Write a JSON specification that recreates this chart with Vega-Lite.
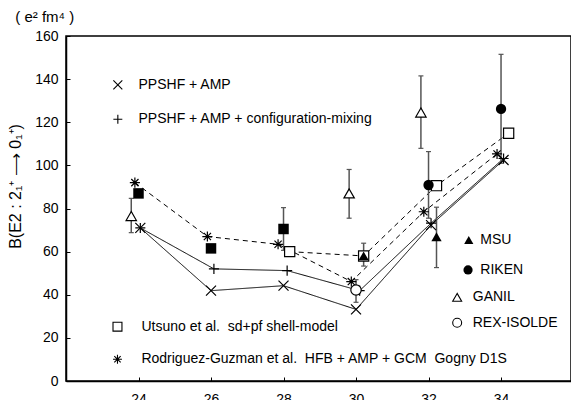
{
  "$schema": "https://vega.github.io/schema/vega-lite/v6.json",
  "width": 505,
  "height": 345,
  "autosize": {"type": "none"},
  "padding": {"left": 66, "top": 36, "right": 0, "bottom": 19},
  "background": "white",
  "config": {
    "view": {"stroke": "black", "strokeWidth": 1.5},
    "font": "Liberation Sans",
    "axis": {"grid": false, "domainColor": "black", "domainWidth": 1.5, "tickColor": "black", "tickWidth": 1, "labelColor": "black", "labelFont": "Liberation Sans", "labelFontSize": 14, "titleColor": "black"}
  },
  "datasets": {
    "models": [
      {"model": "PPSHF + AMP", "x": 24.05, "y": 71},
      {"model": "PPSHF + AMP", "x": 26.0, "y": 41.9},
      {"model": "PPSHF + AMP", "x": 28.0, "y": 44.2},
      {"model": "PPSHF + AMP", "x": 30.0, "y": 33.2},
      {"model": "PPSHF + AMP", "x": 32.07, "y": 72.3},
      {"model": "PPSHF + AMP", "x": 34.07, "y": 102.5},
      {"model": "PPSHF + AMP + configuration-mixing", "x": 24.05, "y": 71},
      {"model": "PPSHF + AMP + configuration-mixing", "x": 26.08, "y": 52},
      {"model": "PPSHF + AMP + configuration-mixing", "x": 28.1, "y": 51.2},
      {"model": "PPSHF + AMP + configuration-mixing", "x": 30.1, "y": 41.9},
      {"model": "PPSHF + AMP + configuration-mixing", "x": 32.07, "y": 73.2},
      {"model": "PPSHF + AMP + configuration-mixing", "x": 34.07, "y": 103.2},
      {"model": "Rodriguez-Guzman", "x": 23.9, "y": 92},
      {"model": "Rodriguez-Guzman", "x": 25.9, "y": 67},
      {"model": "Rodriguez-Guzman", "x": 27.85, "y": 63.4},
      {"model": "Rodriguez-Guzman", "x": 29.87, "y": 46.1},
      {"model": "Rodriguez-Guzman", "x": 31.87, "y": 78.5},
      {"model": "Rodriguez-Guzman", "x": 33.89, "y": 105.3},
      {"model": "Utsuno", "x": 28.17, "y": 60},
      {"model": "Utsuno", "x": 30.21, "y": 58},
      {"model": "Utsuno", "x": 32.22, "y": 90.6},
      {"model": "Utsuno", "x": 34.21, "y": 114.9}
    ],
    "openPts": [
      {"sym": "x", "x": 24.05, "y": 71},
      {"sym": "x", "x": 26.0, "y": 41.9},
      {"sym": "x", "x": 28.0, "y": 44.2},
      {"sym": "x", "x": 30.0, "y": 33.2},
      {"sym": "x", "x": 32.07, "y": 72.3},
      {"sym": "x", "x": 34.07, "y": 102.5},
      {"sym": "plus", "x": 24.05, "y": 71},
      {"sym": "plus", "x": 26.08, "y": 52},
      {"sym": "plus", "x": 28.1, "y": 51.2},
      {"sym": "plus", "x": 30.1, "y": 41.9},
      {"sym": "plus", "x": 32.07, "y": 73.2},
      {"sym": "plus", "x": 34.07, "y": 103.2},
      {"sym": "ast", "x": 23.9, "y": 92},
      {"sym": "ast", "x": 25.9, "y": 67},
      {"sym": "ast", "x": 27.85, "y": 63.4},
      {"sym": "ast", "x": 29.87, "y": 46.1},
      {"sym": "ast", "x": 31.87, "y": 78.5},
      {"sym": "ast", "x": 33.89, "y": 105.3},
      {"sym": "GANIL", "x": 23.8, "y": 76.5},
      {"sym": "GANIL", "x": 29.81, "y": 87},
      {"sym": "GANIL", "x": 31.79, "y": 124.5},
      {"sym": "REX", "x": 30.0, "y": 42.2},
      {"sym": "RIKEN", "x": 32.0, "y": 90.9, "f": 1},
      {"sym": "RIKEN", "x": 34.0, "y": 126.2, "f": 1},
      {"sym": "SqF", "x": 24.0, "y": 87, "f": 1},
      {"sym": "SqF", "x": 26.0, "y": 61.5, "f": 1},
      {"sym": "SqF", "x": 28.0, "y": 70.5, "f": 1},
      {"sym": "sq", "x": 28.17, "y": 60},
      {"sym": "sq", "x": 30.21, "y": 58},
      {"sym": "sq", "x": 32.22, "y": 90.6},
      {"sym": "sq", "x": 34.21, "y": 114.9},
      {"sym": "MSU", "x": 30.21, "y": 58, "f": 1},
      {"sym": "MSU", "x": 32.22, "y": 66.9, "f": 1}
    ],
    "errors": [
      {"x": 23.8, "lo": 68.8, "hi": 84.7},
      {"x": 28.0, "lo": 60.6, "hi": 80.4},
      {"x": 29.81, "lo": 75.5, "hi": 98.1},
      {"x": 30.21, "lo": 53.3, "hi": 63.9},
      {"x": 30.0, "lo": 36.5, "hi": 47},
      {"x": 31.79, "lo": 107.9, "hi": 141.5},
      {"x": 32.0, "lo": 75.5, "hi": 106.4},
      {"x": 32.22, "lo": 52.6, "hi": 80.6},
      {"x": 34.0, "lo": 101, "hi": 151.5}
    ],
    "legend": [
      {"sym": "x", "x": 23.43, "y": 137.3, "tx": 24.0, "label": "PPSHF + AMP"},
      {"sym": "plus", "x": 23.43, "y": 121.4, "tx": 24.0, "label": "PPSHF + AMP + configuration-mixing"},
      {"sym": "sq", "x": 23.42, "y": 25.2, "tx": 24.08, "label": "Utsuno et al.\u00a0 sd+pf shell-model"},
      {"sym": "ast", "x": 23.42, "y": 10.1, "tx": 24.08, "label": "Rodriguez-Guzman et al.\u00a0 HFB + AMP + GCM\u00a0 Gogny D1S"},
      {"sym": "MSU", "x": 33.11, "y": 65.4, "tx": 33.43, "label": "MSU", "f": 1},
      {"sym": "RIKEN", "x": 33.09, "y": 51.5, "tx": 33.43, "label": "RIKEN", "f": 1},
      {"sym": "GANIL", "x": 32.79, "y": 38.8, "tx": 33.22, "label": "GANIL"},
      {"sym": "REX", "x": 32.79, "y": 27.0, "tx": 33.22, "label": "REX-ISOLDE"}
    ],
    "unit": [
      {"x": 20.6, "y": 166.5, "label": "( e² fm⁴ )"}
    ]
  },
  "layer": [
    {
      "data": {"name": "models"},
      "mark": {"type": "line", "color": "black", "strokeWidth": 1},
      "encoding": {
        "x": {"field": "x", "type": "quantitative", "scale": {"domain": [22, 35.93], "nice": false, "zero": false},
              "axis": {"orient": "bottom", "values": [24, 26, 28, 30, 32, 34], "tickSize": -4, "labelPadding": 15, "title": null}},
        "y": {"field": "y", "type": "quantitative", "scale": {"domain": [0, 160], "nice": false, "zero": false},
              "axis": {"orient": "left", "values": [0, 20, 40, 60, 80, 100, 120, 140, 160], "tickSize": -4, "labelPadding": 12,
                       "title": "B(E2 : 2₁⁺ ⟶ 0₁⁺)", "titleFontSize": 16, "titleFontWeight": "normal", "titleFont": "Liberation Sans",
                       "titleX": -51, "titleY": 150, "titleAngle": 270, "titleAlign": "center", "titleBaseline": "middle"}},
        "detail": {"field": "model"},
        "strokeDash": {"field": "model", "scale": {"domain": ["PPSHF + AMP", "PPSHF + AMP + configuration-mixing", "Rodriguez-Guzman", "Utsuno"], "range": [[1, 0], [1, 0], [5, 4], [5, 4]]}, "legend": null}
      }
    },
    {
      "data": {"name": "errors"},
      "mark": {"type": "rule", "color": "#555555", "strokeWidth": 1.5},
      "encoding": {
        "x": {"field": "x", "type": "quantitative"},
        "y": {"field": "lo", "type": "quantitative"},
        "y2": {"field": "hi"}
      }
    },
    {
      "data": {"name": "errors"},
      "mark": {"type": "point", "shape": "M-1,0L1,0", "size": 25, "stroke": "#555555", "strokeWidth": 1.2, "opacity": 1},
      "encoding": {"x": {"field": "x", "type": "quantitative"}, "y": {"field": "lo", "type": "quantitative"}}
    },
    {
      "data": {"name": "errors"},
      "mark": {"type": "point", "shape": "M-1,0L1,0", "size": 25, "stroke": "#555555", "strokeWidth": 1.2, "opacity": 1},
      "encoding": {"x": {"field": "x", "type": "quantitative"}, "y": {"field": "hi", "type": "quantitative"}}
    },
    {
      "data": {"name": "openPts"},
      "transform": [{"filter": "datum.f !== 1"}],
      "mark": {"type": "point", "fill": "white", "stroke": "black", "strokeWidth": 1.2, "opacity": 1},
      "encoding": {
        "x": {"field": "x", "type": "quantitative"},
        "y": {"field": "y", "type": "quantitative"},
        "shape": {"field": "sym", "scale": {"domain": ["x", "plus", "ast", "sq", "MSU", "RIKEN", "GANIL", "REX", "SqF"],
                  "range": ["M-1,-1L1,1M-1,1L1,-1", "M-1,0L1,0M0,-1L0,1", "M-1,0L1,0M0,-1L0,1M-0.71,-0.71L0.71,0.71M-0.71,0.71L0.71,-0.71", "square", "triangle-up", "circle", "triangle-up", "circle", "square"]}, "legend": null},
        "size": {"field": "sym", "scale": {"domain": ["x", "plus", "ast", "sq", "MSU", "RIKEN", "GANIL", "REX", "SqF"], "range": [100, 110, 120, 100, 110, 110, 100, 110, 110]}, "legend": null}
      }
    },
    {
      "data": {"name": "openPts"},
      "transform": [{"filter": "datum.f === 1"}],
      "mark": {"type": "point", "filled": true, "color": "black", "opacity": 1},
      "encoding": {
        "x": {"field": "x", "type": "quantitative"},
        "y": {"field": "y", "type": "quantitative"},
        "shape": {"field": "sym", "legend": null},
        "size": {"field": "sym", "legend": null}
      }
    },
    {
      "data": {"name": "legend"},
      "transform": [{"filter": "datum.f !== 1"}],
      "mark": {"type": "point", "fill": "white", "stroke": "black", "strokeWidth": 1.1, "opacity": 1, "size": 80},
      "encoding": {
        "x": {"field": "x", "type": "quantitative"},
        "y": {"field": "y", "type": "quantitative"},
        "shape": {"field": "sym", "legend": null}
      }
    },
    {
      "data": {"name": "legend"},
      "transform": [{"filter": "datum.f === 1"}],
      "mark": {"type": "point", "filled": true, "color": "black", "opacity": 1, "size": 85},
      "encoding": {
        "x": {"field": "x", "type": "quantitative"},
        "y": {"field": "y", "type": "quantitative"},
        "shape": {"field": "sym", "legend": null}
      }
    },
    {
      "data": {"name": "legend"},
      "mark": {"type": "text", "align": "left", "baseline": "middle", "fontSize": 14, "font": "Liberation Sans", "color": "black"},
      "encoding": {
        "x": {"field": "tx", "type": "quantitative"},
        "y": {"field": "y", "type": "quantitative"},
        "text": {"field": "label"}
      }
    },
    {
      "data": {"name": "unit"},
      "mark": {"type": "text", "align": "left", "baseline": "alphabetic", "fontSize": 15, "font": "Liberation Sans", "color": "black"},
      "encoding": {
        "x": {"field": "x", "type": "quantitative"},
        "y": {"field": "y", "type": "quantitative"},
        "text": {"field": "label"}
      }
    }
  ]
}
